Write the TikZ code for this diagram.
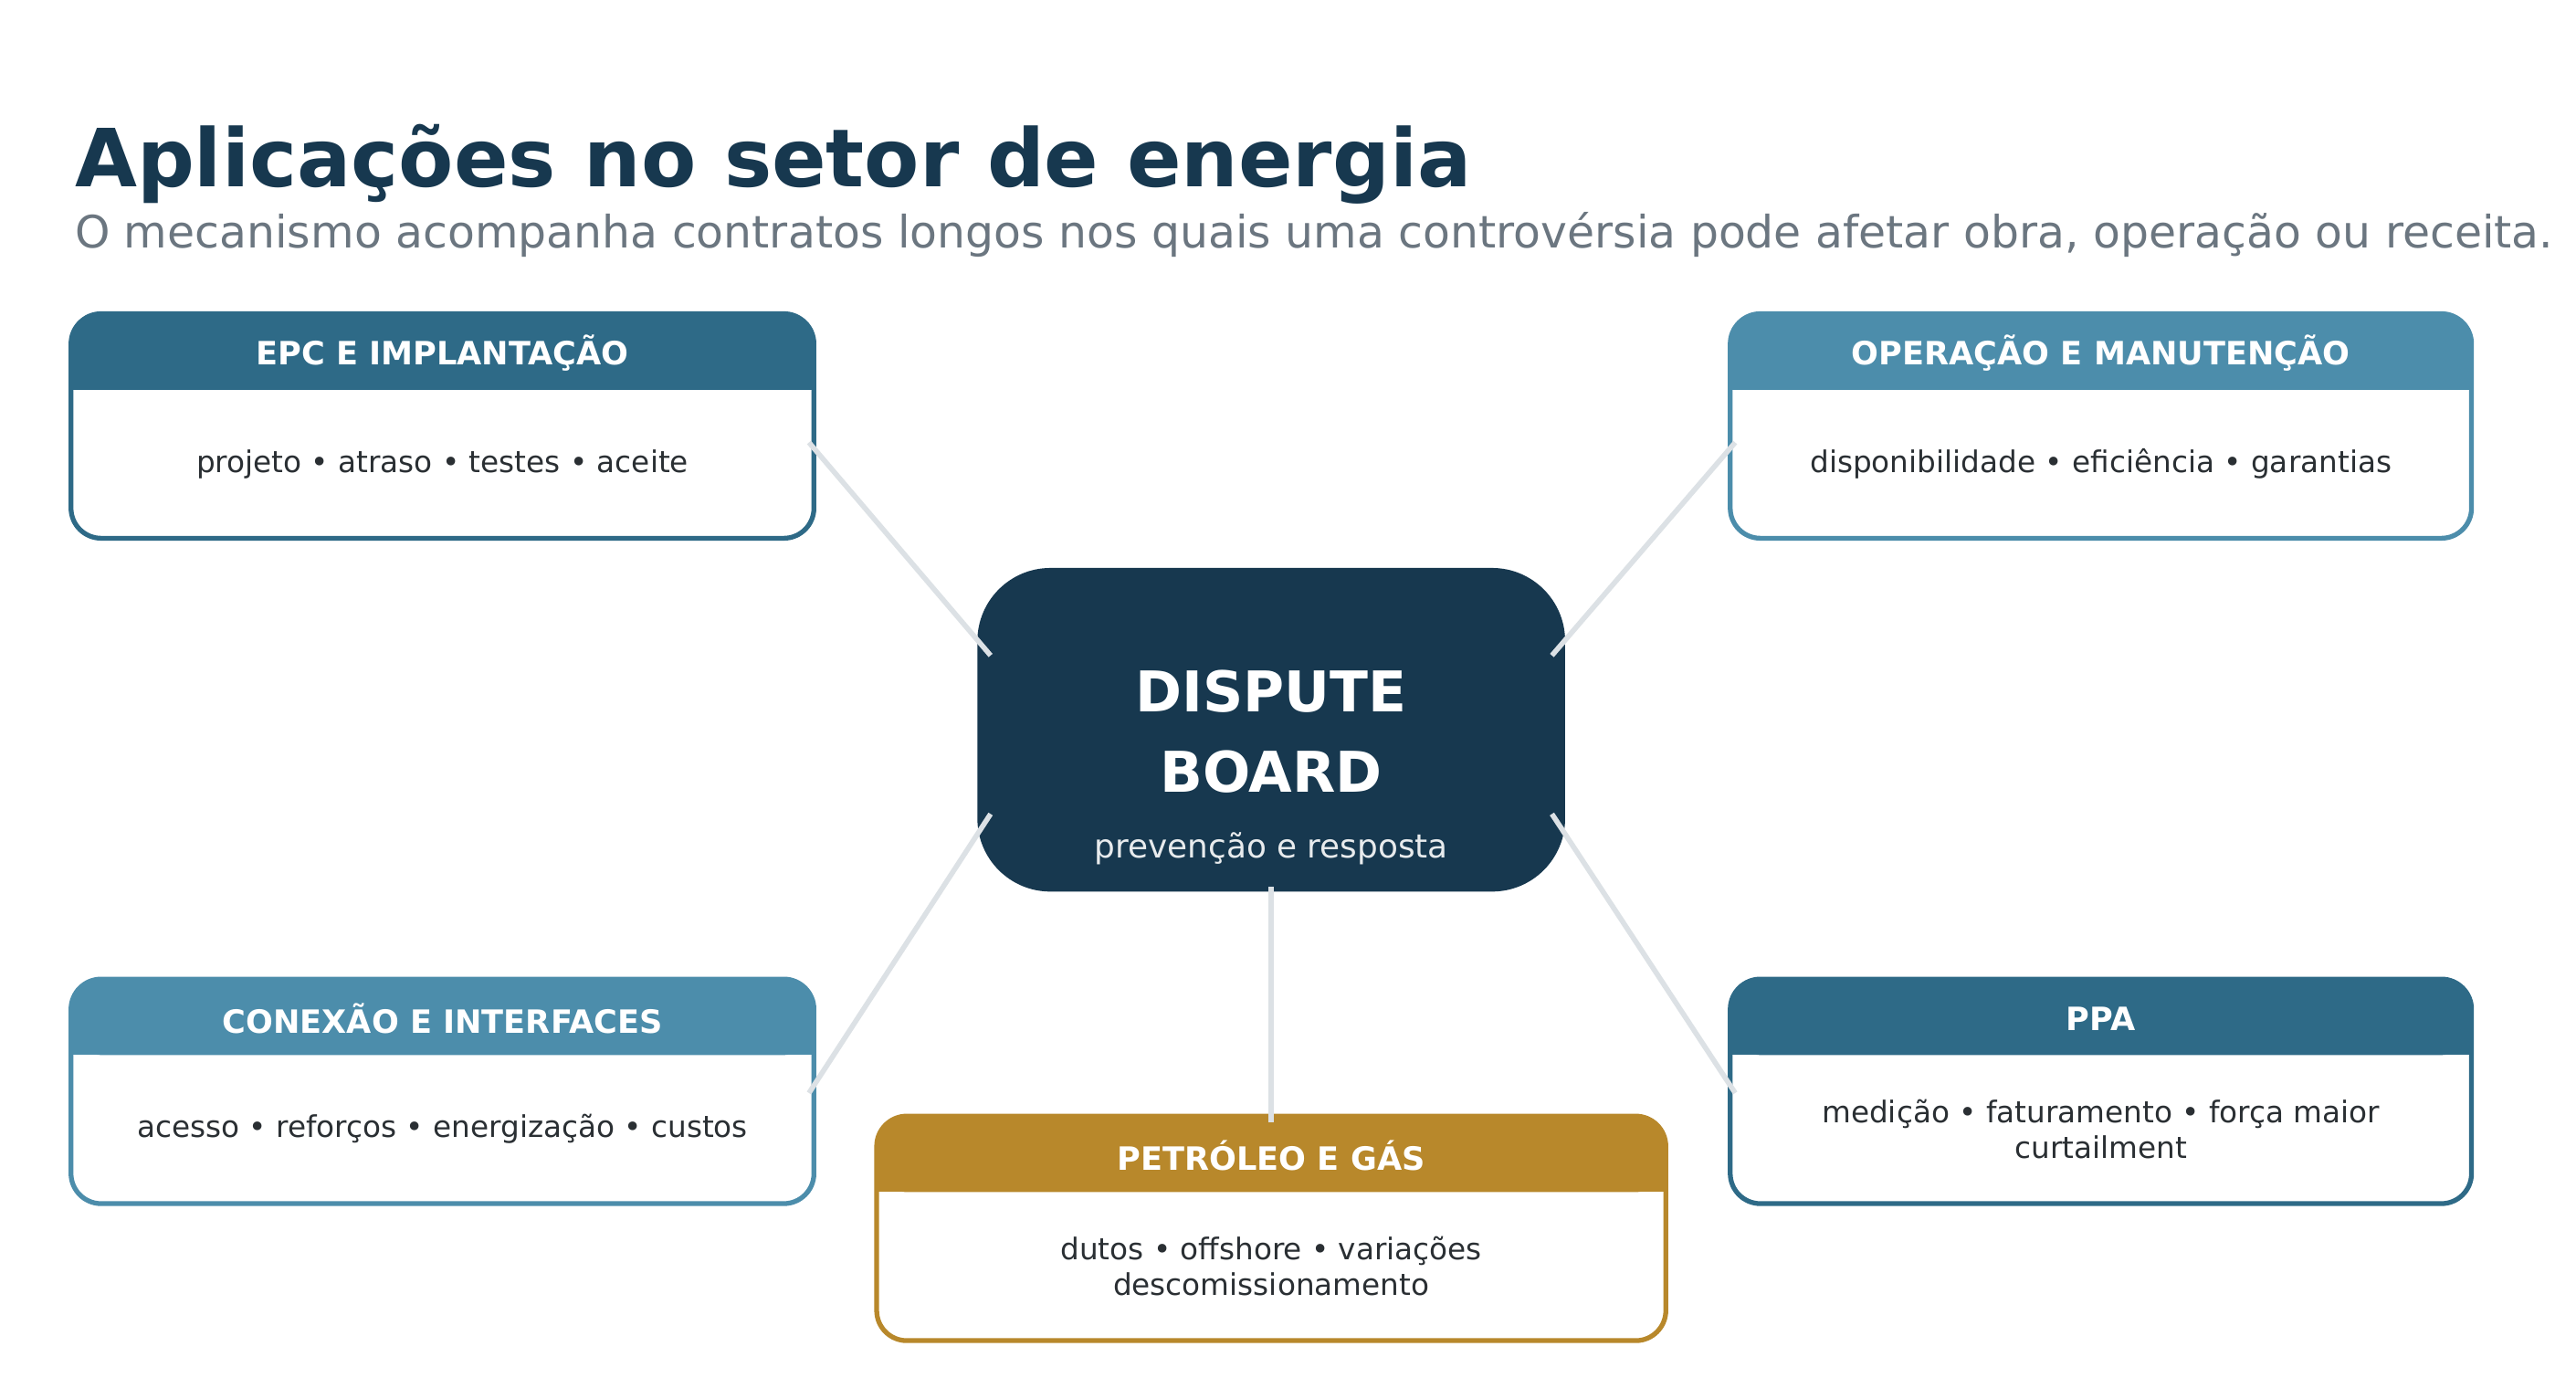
\documentclass[tikz,border=0pt]{standalone}
\usepackage{fontspec}
\setmainfont{DejaVu Sans}
\usetikzlibrary{calc}
\definecolor{navy}{HTML}{17384F}
\definecolor{tealdark}{HTML}{2E6A87}
\definecolor{teallight}{HTML}{4C8DAB}
\definecolor{gold}{HTML}{B8882B}
\definecolor{linkgray}{HTML}{DCE1E5}
\definecolor{subgray}{HTML}{6B7680}
\definecolor{bodytext}{HTML}{2A2F33}

% caixa de aplicacao: nome, x1, y1, x2, y2, cor, titulo, texto
\newcommand{\appbox}[8]{%
  \fill[#6, rounded corners=0.33cm] (#2,#3) rectangle (#4,#3+46);
  \fill[#6] (#2,#3+25) rectangle (#4,#3+46);
  \draw[box line, draw=#6] (#2,#3) rectangle (#4,#5);
  \node[head text] (#1 head) at ({(#2+#4)/2},#3+24) {#7};
  \node[body text] (#1 body) at ({(#2+#4)/2},{(#3+46+#5)/2}) {#8};
  \coordinate (#1 L) at (#2,{(#3+#5)/2});
  \coordinate (#1 R) at (#4,{(#3+#5)/2});
  \coordinate (#1 T) at ({(#2+#4)/2},#3);
}

\begin{document}
\begin{tikzpicture}[
    x=0.01808cm, y=-0.01808cm,
    box line/.style={line width=1.5pt, rounded corners=0.33cm},
    head text/.style={text=white, font=\bfseries\fontsize{10}{12}\selectfont},
    body text/.style={text=bodytext, align=center, font=\fontsize{9.3}{11.2}\selectfont},
    link/.style={draw=linkgray, line width=1.6pt},
]
    \useasboundingbox[fill=white] (0,0) rectangle (1560.3,834.6);

    % titulo
    \node[anchor=base west, text=navy, font=\bfseries\fontsize{25}{30}\selectfont, inner sep=0] (title) at (45,113) {Aplicações no setor de energia};
    \node[anchor=base west, text=subgray, font=\fontsize{13.9}{16}\selectfont, inner sep=0] (subtitle) at (45,150) {O mecanismo acompanha contratos longos nos quais uma controvérsia pode afetar obra, operação ou receita.};

    % centro
    \fill[navy, rounded corners=0.8cm] (592,344) rectangle (948,540);
    \coordinate (center NW) at (600,397);
    \coordinate (center NE) at (940,397);
    \coordinate (center SW) at (600,493);
    \coordinate (center SE) at (940,493);
    \coordinate (center S) at (770,537);
    \node[text=white, align=center, font=\bfseries\fontsize{17.5}{25}\selectfont] (center) at (770,443) {DISPUTE\\BOARD};
    \node[text=white!90!navy, font=\fontsize{10.2}{12}\selectfont] (center sub) at (770,514) {prevenção e resposta};

    % caixas
    \appbox{epc}{43}{190}{493}{326}{tealdark}{EPC E IMPLANTAÇÃO}{projeto • atraso • testes • aceite}
    \appbox{om}{1048}{190}{1497}{326}{teallight}{OPERAÇÃO E MANUTENÇÃO}{disponibilidade • eficiência • garantias}
    \appbox{con}{43}{593}{493}{729}{teallight}{CONEXÃO E INTERFACES}{acesso • reforços • energização • custos}
    \appbox{ppa}{1048}{593}{1497}{729}{tealdark}{PPA}{medição • faturamento • força maior\\curtailment}
    \appbox{oil}{531}{676}{1009}{812}{gold}{PETRÓLEO E GÁS}{dutos • offshore • variações\\descomissionamento}

    % ligacoes
    \draw[link] ($(epc R)+(-3,10)$) -- (center NW);
    \draw[link] ($(om L)+(3,10)$) -- (center NE);
    \draw[link] ($(con R)+(-3,1)$) -- (center SW);
    \draw[link] ($(ppa L)+(3,1)$) -- (center SE);
    \draw[link] ($(oil T)+(0,4)$) -- (center S);
\end{tikzpicture}
\end{document}
